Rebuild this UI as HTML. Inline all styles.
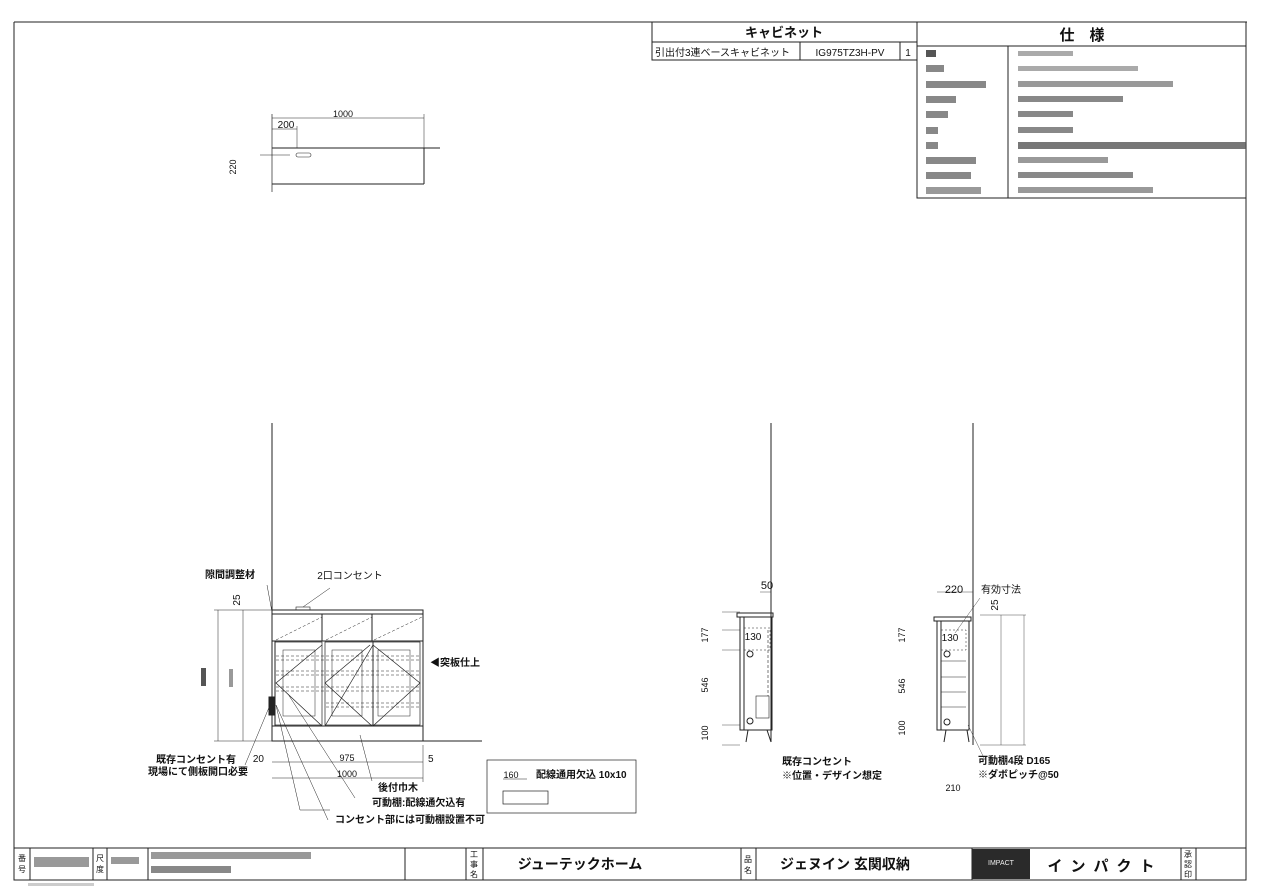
<!DOCTYPE html>
<html><head><meta charset="utf-8"><style>
html,body{margin:0;padding:0;background:#fff}
svg{display:block}
text{font-family:"Liberation Sans","Noto Sans CJK JP",sans-serif;fill:#111}
.b{font-weight:bold}
</style></head><body>
<svg width="1262" height="893" viewBox="0 0 1262 893" xmlns="http://www.w3.org/2000/svg">
<g fill="none" stroke="#222" stroke-width="1">
<!-- frame -->
<line x1="14" y1="22" x2="1247" y2="22"/>
<line x1="14" y1="22" x2="14" y2="880"/>
<line x1="1246" y1="22" x2="1246" y2="880"/>
<!-- cabinet table -->
<rect x="652" y="22" width="265" height="38"/>
<line x1="652" y1="42" x2="917" y2="42"/>
<line x1="800" y1="42" x2="800" y2="60"/>
<line x1="900" y1="42" x2="900" y2="60"/>
<!-- spec table -->
<rect x="917" y="22" width="329" height="176"/>
<line x1="917" y1="46" x2="1246" y2="46"/>
<line x1="1008" y1="46" x2="1008" y2="198"/>
<!-- plan view -->
<line x1="272" y1="118" x2="424" y2="118" stroke-width="0.6"/>
<line x1="272" y1="129" x2="297" y2="129" stroke-width="0.6"/>
<line x1="272" y1="114" x2="272" y2="192" stroke-width="0.7"/>
<line x1="424" y1="114" x2="424" y2="148" stroke-width="0.5"/>
<line x1="297" y1="126" x2="297" y2="148" stroke-width="0.5"/>
<line x1="272" y1="148" x2="440" y2="148"/>
<line x1="424" y1="148" x2="424" y2="184"/>
<line x1="272" y1="184" x2="424" y2="184"/>
<line x1="260" y1="155" x2="290" y2="155" stroke-width="0.5"/>
<rect x="296" y="153" width="15" height="4" rx="2" stroke-width="0.6"/>
<!-- front elevation -->
<line x1="272" y1="423" x2="272" y2="741"/>
<line x1="272" y1="741" x2="482" y2="741"/>
<rect x="272" y="610" width="151" height="4"/>
<rect x="272" y="614" width="151" height="127"/>
<line x1="272" y1="641" x2="423" y2="641"/>
<line x1="322" y1="614" x2="322" y2="641"/>
<line x1="372" y1="614" x2="372" y2="641"/>
<line x1="272" y1="726" x2="423" y2="726"/>
<line x1="275" y1="641" x2="275" y2="726"/>
<rect x="275" y="642" width="47" height="83" stroke-width="0.7"/>
<rect x="325" y="642" width="48" height="83" stroke-width="0.7"/>
<rect x="373" y="642" width="47" height="83" stroke-width="0.7"/>
<rect x="283" y="650" width="32" height="66" stroke-width="0.5"/>
<rect x="332" y="650" width="30" height="66" stroke-width="0.5"/>
<rect x="378" y="650" width="32" height="66" stroke-width="0.5"/>
<g stroke-width="0.5" stroke-dasharray="3,2">
<line x1="276" y1="656" x2="420" y2="656"/><line x1="276" y1="660" x2="420" y2="660"/>
<line x1="276" y1="671" x2="420" y2="671"/><line x1="276" y1="675" x2="420" y2="675"/>
<line x1="276" y1="687" x2="420" y2="687"/><line x1="276" y1="691" x2="420" y2="691"/>
<line x1="326" y1="703" x2="420" y2="703"/><line x1="326" y1="707" x2="420" y2="707"/>
<line x1="276" y1="640" x2="322" y2="617"/><line x1="326" y1="640" x2="372" y2="617"/><line x1="374" y1="640" x2="422" y2="617"/>
</g>
<g stroke-width="0.7">
<polyline points="322,645 276,683 322,726"/>
<polyline points="325,726 325,726 373,645"/>
<polyline points="325,683 370,645"/>
<polyline points="325,683 372,726"/>
<polyline points="373,645 420,683 373,726"/>
</g>
<rect x="269" y="697" width="5" height="18" fill="#222"/>
<rect x="296" y="607" width="14" height="3" stroke-width="0.6"/>
<!-- front dims -->
<g stroke-width="0.5">
<line x1="243" y1="610" x2="243" y2="741"/><line x1="218" y1="610" x2="218" y2="741"/>
<line x1="214" y1="610" x2="272" y2="610"/><line x1="214" y1="741" x2="272" y2="741"/>
<line x1="272" y1="762" x2="423" y2="762"/><line x1="272" y1="778" x2="423" y2="778"/>
<line x1="423" y1="745" x2="423" y2="782"/>
<line x1="267" y1="585" x2="272" y2="612"/>
<line x1="270" y1="705" x2="245" y2="765"/>
<line x1="276" y1="705" x2="300" y2="810"/><line x1="300" y1="810" x2="330" y2="810"/>
<line x1="276" y1="705" x2="328" y2="820"/>
<line x1="288" y1="694" x2="355" y2="798"/>
<line x1="360" y1="735" x2="372" y2="781"/>
<line x1="303" y1="607" x2="330" y2="588"/>
</g>
<!-- small box -->
<rect x="487" y="760" width="149" height="53" stroke-width="0.7"/>
<rect x="503" y="791" width="45" height="13" stroke-width="0.7"/>
<line x1="503" y1="779" x2="527" y2="779" stroke-width="0.5"/>
<!-- side view 1 -->
<line x1="771" y1="423" x2="771" y2="742"/>
<rect x="737" y="613" width="36" height="4"/>
<rect x="740" y="617" width="32" height="113"/>
<line x1="744" y1="617" x2="744" y2="730"/>
<rect x="744" y="628" width="26" height="22" stroke-dasharray="2,2" stroke-width="0.5"/>
<line x1="768" y1="630" x2="768" y2="696" stroke-dasharray="3,2" stroke-width="0.6"/>
<rect x="756" y="696" width="13" height="22" stroke-width="0.6"/>
<circle cx="750" cy="654" r="3"/><circle cx="750" cy="721" r="3"/>
<line x1="748" y1="730" x2="746" y2="742"/><line x1="767" y1="730" x2="771" y2="742"/>
<g stroke-width="0.4"><line x1="722" y1="612" x2="740" y2="612"/><line x1="722" y1="630" x2="740" y2="630"/><line x1="722" y1="650" x2="740" y2="650"/><line x1="722" y1="725" x2="740" y2="725"/><line x1="722" y1="745" x2="740" y2="745"/><line x1="760" y1="592" x2="771" y2="592"/></g>
<!-- side view 2 -->
<line x1="973" y1="423" x2="973" y2="745"/>
<rect x="934" y="617" width="37" height="4"/>
<rect x="937" y="621" width="32" height="109"/>
<line x1="941" y1="621" x2="941" y2="730"/>
<rect x="941" y="630" width="25" height="20" stroke-dasharray="2,2" stroke-width="0.5"/>
<g stroke-width="0.6"><line x1="941" y1="661" x2="966" y2="661"/><line x1="941" y1="677" x2="966" y2="677"/><line x1="941" y1="692" x2="966" y2="692"/><line x1="941" y1="707" x2="966" y2="707"/></g>
<circle cx="947" cy="654" r="3"/><circle cx="947" cy="722" r="3"/>
<line x1="946" y1="730" x2="944" y2="742"/><line x1="967" y1="730" x2="969" y2="742"/>
<g stroke-width="0.4">
<line x1="937" y1="592" x2="973" y2="592"/>
<line x1="1001" y1="615" x2="1001" y2="745"/><line x1="1024" y1="615" x2="1024" y2="745"/>
<line x1="980" y1="615" x2="1026" y2="615"/><line x1="980" y1="745" x2="1026" y2="745"/>
<line x1="955" y1="633" x2="980" y2="598"/>
<line x1="968" y1="725" x2="985" y2="760"/>
</g>
<!-- bottom title -->
<rect x="14" y="848" width="1232" height="32"/>
<g><line x1="30" y1="848" x2="30" y2="880"/><line x1="93" y1="848" x2="93" y2="880"/><line x1="107" y1="848" x2="107" y2="880"/><line x1="148" y1="848" x2="148" y2="880"/><line x1="405" y1="848" x2="405" y2="880"/><line x1="466" y1="848" x2="466" y2="880"/><line x1="483" y1="848" x2="483" y2="880"/><line x1="741" y1="848" x2="741" y2="880"/><line x1="756" y1="848" x2="756" y2="880"/><line x1="972" y1="848" x2="972" y2="880"/><line x1="1181" y1="848" x2="1181" y2="880"/><line x1="1196" y1="848" x2="1196" y2="880"/></g>
</g>
<rect x="972" y="849" width="58" height="30" fill="#2a2a2a"/>
<rect x="28" y="883" width="66" height="3" fill="#ccc"/>
<!-- gray noise rows for spec -->
<g fill="#555">
<rect x="926" y="50" width="10" height="7"/><rect x="1018" y="51" width="55" height="5" opacity=".5"/>
<rect x="926" y="65" width="18" height="7" opacity=".7"/><rect x="1018" y="66" width="120" height="5" opacity=".5"/>
<rect x="926" y="81" width="60" height="7" opacity=".7"/><rect x="1018" y="81" width="155" height="6" opacity=".6"/>
<rect x="926" y="96" width="30" height="7" opacity=".7"/><rect x="1018" y="96" width="105" height="6" opacity=".7"/>
<rect x="926" y="111" width="22" height="7" opacity=".7"/><rect x="1018" y="111" width="55" height="6" opacity=".7"/>
<rect x="926" y="127" width="12" height="7" opacity=".7"/><rect x="1018" y="127" width="55" height="6" opacity=".7"/>
<rect x="926" y="142" width="12" height="7" opacity=".7"/><rect x="1018" y="142" width="228" height="7" opacity=".8"/>
<rect x="926" y="157" width="50" height="7" opacity=".7"/><rect x="1018" y="157" width="90" height="6" opacity=".6"/>
<rect x="926" y="172" width="45" height="7" opacity=".7"/><rect x="1018" y="172" width="115" height="6" opacity=".7"/>
<rect x="926" y="187" width="55" height="7" opacity=".6"/><rect x="1018" y="187" width="135" height="6" opacity=".6"/>
<rect x="151" y="852" width="160" height="7" opacity=".6"/><rect x="151" y="866" width="80" height="7" opacity=".7"/>
<rect x="34" y="857" width="55" height="10" opacity=".6"/><rect x="111" y="857" width="28" height="7" opacity=".6"/>
<rect x="201" y="668" width="5" height="18"/><rect x="229" y="669" width="4" height="18" opacity=".6"/>
</g>
<!-- texts -->
<text x="784" y="37" font-size="13" text-anchor="middle" class="b">キャビネット</text>
<text x="1082" y="40" font-size="15" text-anchor="middle" class="b">仕　様</text>
<text x="655" y="56" font-size="10">引出付3連ベースキャビネット</text>
<text x="850" y="56" font-size="10" text-anchor="middle">IG975TZ3H-PV</text>
<text x="908" y="56" font-size="10" text-anchor="middle">1</text>
<text x="343" y="117" font-size="9" text-anchor="middle">1000</text>
<text x="286" y="128" font-size="10" text-anchor="middle">200</text>
<text x="236" y="167" font-size="9" transform="rotate(-90 236 167)" text-anchor="middle">220</text>
<text x="230" y="578" font-size="10" class="b" text-anchor="middle">隙間調整材</text>
<text x="350" y="579" font-size="10" text-anchor="middle" fill="#444">2口コンセント</text>
<text x="240" y="600" font-size="10" transform="rotate(-90 240 600)" text-anchor="middle">25</text>
<text x="430" y="666" font-size="10" class="b">◀突板仕上</text>
<text x="196" y="763" font-size="10" class="b" text-anchor="middle">既存コンセント有</text>
<text x="198" y="775" font-size="10" class="b" text-anchor="middle">現場にて側板開口必要</text>
<text x="264" y="762" font-size="10" text-anchor="end">20</text>
<text x="347" y="761" font-size="9" text-anchor="middle">975</text>
<text x="428" y="762" font-size="10">5</text>
<text x="347" y="777" font-size="9" text-anchor="middle">1000</text>
<text x="378" y="791" font-size="10" class="b">後付巾木</text>
<text x="372" y="806" font-size="10" class="b">可動棚:配線通欠込有</text>
<text x="335" y="823" font-size="10" class="b">コンセント部には可動棚設置不可</text>
<text x="511" y="778" font-size="9" text-anchor="middle" fill="#444">160</text>
<text x="536" y="778" font-size="10" class="b">配線通用欠込 10x10</text>
<text x="767" y="589" font-size="11" text-anchor="middle">50</text>
<text x="753" y="640" font-size="10" text-anchor="middle">130</text>
<text x="708" y="635" font-size="9" transform="rotate(-90 708 635)" text-anchor="middle">177</text>
<text x="708" y="685" font-size="9" transform="rotate(-90 708 685)" text-anchor="middle">546</text>
<text x="708" y="733" font-size="9" transform="rotate(-90 708 733)" text-anchor="middle">100</text>
<text x="782" y="765" font-size="10" class="b">既存コンセント</text>
<text x="782" y="779" font-size="10" class="b">※位置・デザイン想定</text>
<text x="954" y="593" font-size="11" text-anchor="middle">220</text>
<text x="981" y="593" font-size="10" fill="#444">有効寸法</text>
<text x="998" y="605" font-size="10" transform="rotate(-90 998 605)" text-anchor="middle">25</text>
<text x="950" y="641" font-size="10" text-anchor="middle">130</text>
<text x="905" y="635" font-size="9" transform="rotate(-90 905 635)" text-anchor="middle">177</text>
<text x="905" y="686" font-size="9" transform="rotate(-90 905 686)" text-anchor="middle">546</text>
<text x="905" y="728" font-size="9" transform="rotate(-90 905 728)" text-anchor="middle">100</text>
<text x="978" y="764" font-size="10" class="b">可動棚4段 D165</text>
<text x="978" y="778" font-size="10" class="b">※ダボピッチ@50</text>
<text x="953" y="791" font-size="9" text-anchor="middle">210</text>
<text x="22" y="861" font-size="8" text-anchor="middle">番</text><text x="22" y="872" font-size="8" text-anchor="middle">号</text>
<text x="100" y="861" font-size="8" text-anchor="middle">尺</text><text x="100" y="872" font-size="8" text-anchor="middle">度</text>
<text x="474" y="857" font-size="8" text-anchor="middle">工</text><text x="474" y="867" font-size="8" text-anchor="middle">事</text><text x="474" y="877" font-size="8" text-anchor="middle">名</text>
<text x="748" y="862" font-size="8" text-anchor="middle">品</text><text x="748" y="873" font-size="8" text-anchor="middle">名</text>
<text x="580" y="869" font-size="14" text-anchor="middle" class="b">ジューテックホーム</text>
<text x="845" y="869" font-size="14" text-anchor="middle" class="b">ジェヌイン 玄関収納</text>
<text x="1001" y="865" font-size="7" text-anchor="middle" style="fill:#eee">IMPACT</text>
<text x="1105" y="871" font-size="15" text-anchor="middle" class="b" letter-spacing="8">インパクト</text>
<text x="1188" y="857" font-size="8" text-anchor="middle">承</text><text x="1188" y="867" font-size="8" text-anchor="middle">認</text><text x="1188" y="877" font-size="8" text-anchor="middle">印</text>
</svg>
</body></html>
